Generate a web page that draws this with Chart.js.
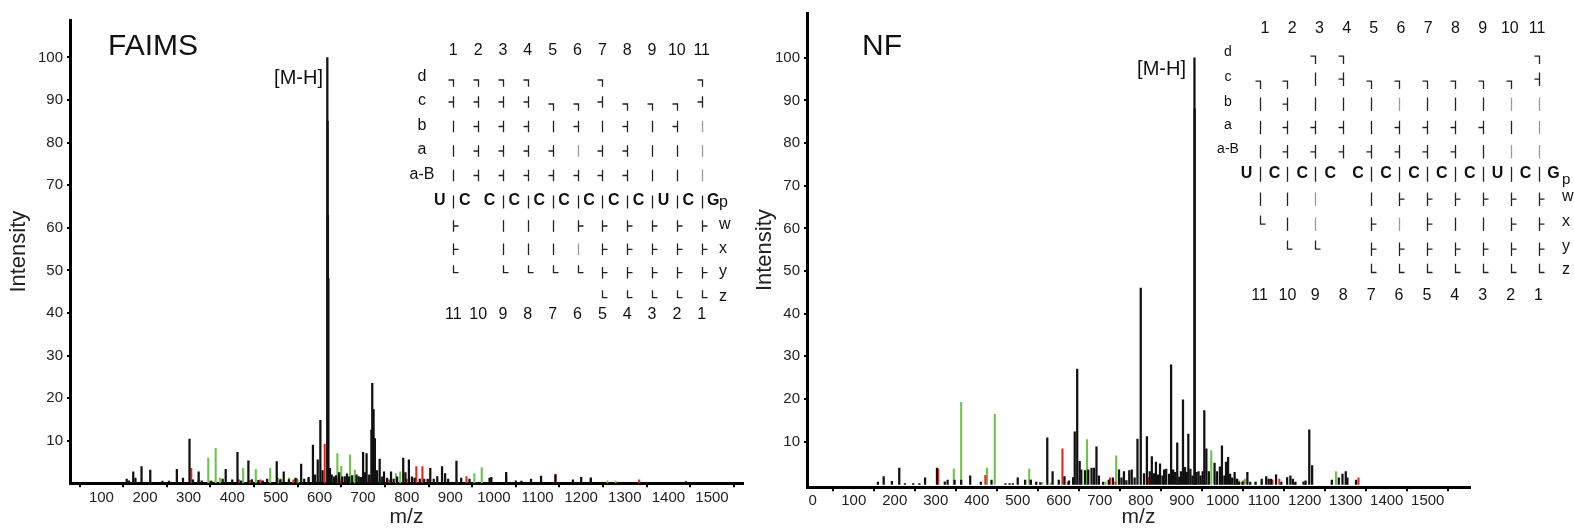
<!DOCTYPE html>
<html>
<head>
<meta charset="utf-8">
<script src="https://cdn.jsdelivr.net/npm/chart.js@4/dist/chart.umd.min.js"></script>
<style>
  html, body { margin: 0; padding: 0; background: #fff; }
  body { width: 1574px; height: 532px; position: relative; overflow: hidden; }
  canvas { position: absolute; top: 0; }
  #faims { left: 0; }
  #nf { left: 745px; }
</style>
</head>
<body>
<canvas id="faims" width="760" height="532"></canvas>
<canvas id="nf" width="829" height="532"></canvas>
<script>
/* ================= DATA ================= */
// peaks as [m/z, relative intensity]
const faimsBlack = [
  [158,1.0],[163,0.6],[173,2.7],[178,1.2],[192,3.9],[212,3.1],[240,0.5],[255,0.5],[273,3.3],[287,1.2],
  [302,10.4],[310,0.8],[323,2.7],[330,0.6],[352,0.5],[378,1.0],[385,3.3],[400,0.8],[412,7.3],[420,0.6],
  [437,5.3],[445,0.9],[460,0.7],[470,0.6],[480,1.0],[502,5.1],[510,0.8],[518,2.7],[530,0.9],[545,1.2],
  [558,4.5],[565,1.0],[575,1.4],[585,9.0],[590,2.0],[596,5.5],[602,14.8],[607,3.0],
  [618,100],[618.6,85],[619.4,63],[620.4,48],[624,3.5],[628,2.0],[633,1.5],[638,1.8],[645,2.5],[652,1.5],
  [658,1.6],[663,2.2],[668,1.5],[675,1.8],[685,2.0],[690,1.6],[695,1.4],[700,7.3],[704,2.5],[708,7.0],
  [714,2.0],[719,12.5],[721,23.5],[724,17.3],[727,10.5],[732,3.0],[738,5.7],[744,1.5],[748,2.7],[755,1.2],
  [764,2.7],[770,1.0],[778,1.5],[792,5.9],[797,2.5],[805,5.5],[812,1.5],[818,1.2],[830,1.0],[840,1.0],
  [848,1.0],[854,3.5],[862,1.0],[870,1.6],[881,3.9],[888,2.3],[895,1.0],[914,5.2],[925,1.2],[944,1.0],
  [990,1.2],[994,1.4],[1028,2.6],[1050,0.6],[1063,0.5],[1085,1.0],[1108,1.7],[1141,2.0],[1181,0.8],
  [1200,1.4],[1222,1.3],[1440,0.4]
];
const faimsRed = [
  [306,3.5],[322,0.8],[350,0.5],[415,0.8],[440,0.7],[465,0.8],[511,1.0],[540,0.8],[548,1.1],[575,1.0],
  [612,9.2],[640,1.2],[650,0.8],[700,1.0],[715,1.5],[760,0.8],[800,1.0],[822,3.9],[836,3.9],[850,0.8],
  [937,1.6],[1028,2.0],[1141,2.1],[1222,1.0],[1333,0.8]
];
const faimsGreen = [
  [212,0.4],[345,5.9],[362,8.2],[372,1.2],[425,3.5],[440,0.6],[454,3.3],[487,3.5],[505,1.2],[530,1.3],
  [550,0.8],[641,7.0],[650,4.0],[670,6.6],[681,3.1],[690,1.0],[740,1.0],[775,2.3],[785,2.7],[870,0.6],
  [915,0.6],[955,2.3],[972,3.7],[1260,0.6],[1279,0.5]
];

const nfBlack = [
  [159,0.5],[173,1.8],[193,0.7],[211,3.8],[225,0.2],[245,0.2],[260,0.2],[274,1.5],[303,3.8],[322,0.6],
  [329,1.0],[346,1.0],[362,1.0],[384,2.0],[410,0.5],[436,1.0],[470,0.2],[480,0.2],[488,0.2],[500,1.5],
  [518,1.0],[532,1.0],[545,0.5],[555,0.4],[572,10.9],[585,3.0],[600,1.0],[614,1.8],[625,0.8],[635,1.6],
  [639,12.3],[645,27.0],[651,5.4],[655,3.4],[664,3.2],[672,3.4],[680,3.8],[686,3.8],[692,8.8],[698,2.0],
  [708,0.5],[722,1.0],[732,1.5],[747,3.4],[753,1.5],[759,3.0],[765,0.9],[772,3.2],[778,3.4],[785,1.5],
  [792,10.6],[800,46.0],[808,2.5],[815,11.2],[822,3.0],[827,6.5],[832,2.5],[837,5.2],[842,2.2],[847,4.8],
  [853,2.0],[857,3.4],[862,3.6],[869,2.4],[874,28.0],[879,3.4],[884,2.8],[889,9.7],[894,1.7],[898,3.0],
  [903,19.8],[908,4.0],[912,2.8],[916,11.8],[921,3.6],[926,2.0],[931,100],[931.6,88],[936,2.8],[941,3.0],
  [946,2.0],[951,3.0],[955,17.3],[960,8.3],[966,3.0],[980,5.0],[986,3.0],[993,4.1],[998,9.0],[1004,2.0],
  [1008,5.2],[1013,6.3],[1018,2.4],[1023,1.5],[1029,2.8],[1035,1.2],[1040,0.5],[1048,0.5],[1060,2.8],
  [1067,0.5],[1080,0.5],[1095,1.2],[1106,1.8],[1112,1.2],[1118,1.2],[1130,2.2],[1143,0.5],[1157,1.6],
  [1165,2.0],[1171,1.2],[1177,0.5],[1197,0.6],[1202,0.8],[1211,12.8],[1218,4.4],[1266,1.0],[1283,1.5],
  [1292,2.4],[1300,3.0],[1304,1.5],[1325,1.0]
];
const nfRed = [
  [306,3.6],[421,2.1],[531,1.0],[545,0.5],[609,8.3],[622,0.5],[725,1.5],[738,0.6],[819,1.6],[890,0.8],
  [1029,1.2],[1050,0.8],[1121,1.0],[1138,1.2],[1177,0.4],[1331,1.5]
];
const nfGreen = [
  [344,3.6],[362,19.2],[425,3.8],[444,16.4],[528,3.6],[560,0.4],[580,0.3],[669,10.5],[714,0.6],[740,6.7],
  [760,0.8],[972,7.9],[985,1.8],[1040,0.8],[1054,1.2],[1080,0.5],[1095,0.6],[1276,3.0]
];

const yTickValues = [10, 20, 30, 40, 50, 60, 70, 80, 90, 100];
const faimsXTicks = [100, 200, 300, 400, 500, 600, 700, 800, 900, 1000, 1100, 1200, 1300, 1400, 1500];
const nfXTicks = [0, 100, 200, 300, 400, 500, 600, 700, 800, 900, 1000, 1100, 1200, 1300, 1400, 1500];

/* ----- fragment maps: . none, l |, I faint |, t ┤, r ├, n ┐, L └ ----- */
const upperRows = ['d', 'c', 'b', 'a', 'a-B'];
const lowerRows = ['w', 'x', 'y', 'z'];
const sequence = ['U', 'C', 'C', 'C', 'C', 'C', 'C', 'C', 'C', 'U', 'C', 'G'];

const faimsUpper = ['nnnn..n...n', 'ttttnntnnnt', 'ltttltltltI', 'lttttIttllI', 'ltttttttllI'];
const faimsLinks = 'l.lllllllll';
const faimsLower = ['r.lllrrrrrr', 'r.lllIrrrrr', 'L.LLLLrrrrr', '......LLLLL'];

const nfUpper = ['..nn......n', 'nnltnnnnnnt', 'ltlllIlllII', 'ltttlttttlI', 'ltttttttlII'];
const nfLinks = 'lll.lllllll';
const nfLower = ['llI.lrrrrrr', 'LlI.rIrllrr', '.LL.rrrrrrr', '....LLLLLLL'];

/* ================= STYLE ================= */
const FONT = "'Liberation Sans', Arial, sans-serif";
const BLACK = '#111111';
const RED = '#e4261f';
const GREEN = '#6cc24a';

const toPoints = arr => arr.map(p => ({ x: p[0], y: p[1] }));

/* ================= INSET ================= */
function drawMark(ctx, code, x, yc, hh) {
  if (code === '.') return;
  ctx.strokeStyle = code === 'I' ? '#9a9a9a' : '#222';
  ctx.beginPath();
  if (code === 'l' || code === 'I') {
    ctx.moveTo(x, yc - hh); ctx.lineTo(x, yc + hh);
  } else if (code === 't') {
    ctx.moveTo(x, yc - hh); ctx.lineTo(x, yc + hh);
    ctx.moveTo(x - 5, yc); ctx.lineTo(x, yc);
  } else if (code === 'r') {
    ctx.moveTo(x, yc - hh); ctx.lineTo(x, yc + hh);
    ctx.moveTo(x, yc); ctx.lineTo(x + 5, yc);
  } else if (code === 'n') {
    ctx.moveTo(x - 5, yc + 2); ctx.lineTo(x, yc + 2); ctx.lineTo(x, yc + hh + 3);
  } else if (code === 'L') {
    ctx.moveTo(x, yc - hh * 1.3); ctx.lineTo(x, yc); ctx.lineTo(x + 5, yc);
  }
  ctx.stroke();
}

function makeInset(s) {
  return {
    id: 'inset_' + s.name,
    afterDraw(chart) {
      const ctx = chart.ctx;
      ctx.save();
      ctx.translate(-s.left, 0);
      ctx.fillStyle = '#111';
      ctx.textBaseline = 'alphabetic';

      // panel title and parent ion label
      ctx.font = '30px ' + FONT;
      ctx.textAlign = 'left';
      ctx.fillText(s.name, s.titleX, 55);
      ctx.font = '20px ' + FONT;
      ctx.textAlign = 'right';
      ctx.fillText('[M-H]', s.mhX, s.mhY);

      const colX = k => s.x0 + (k - 1) * s.dx;
      ctx.textBaseline = 'middle';
      ctx.textAlign = 'center';

      // top / bottom numbering
      ctx.font = '16px ' + FONT;
      for (let k = 1; k <= 11; k++) {
        ctx.fillText(String(k), s.numX0 + (k - 1) * s.numDx, s.numTopY);
        ctx.fillText(String(12 - k), colX(k), s.numBotY);
      }

      // row labels
      ctx.font = s.labelSize + 'px ' + FONT;
      upperRows.forEach((r, i) => ctx.fillText(r, s.labelX, s.rowY[i]));

      ctx.lineWidth = 1.3;
      // upper fragment marks
      s.upper.forEach((row, i) => {
        for (let k = 1; k <= 11; k++) {
          drawMark(ctx, row[k - 1], Math.round(colX(k)) + 0.5, s.rowY[i] + s.markDy, s.hh);
        }
      });
      // backbone links
      for (let k = 1; k <= 11; k++) {
        drawMark(ctx, s.links[k - 1], Math.round(colX(k)) + 0.5, s.seqY + 1, s.seqHh);
      }
      // lower fragment marks
      s.lower.forEach((row, i) => {
        for (let k = 1; k <= 11; k++) {
          drawMark(ctx, row[k - 1], Math.round(colX(k)) + 0.5, s.lowY[i] + s.markDy, s.hh);
        }
      });

      // sequence
      ctx.fillStyle = '#111';
      ctx.font = 'bold 16px ' + FONT;
      sequence.forEach((b, i) => ctx.fillText(b, s.x0 + (i - 0.5) * s.dx + s.baseDx, s.seqY));

      // p / w x y z
      ctx.textAlign = 'left';
      ctx.font = s.pSize + 'px ' + FONT;
      ctx.fillText('p', s.sideX, s.pY);
      ctx.font = '16px ' + FONT;
      lowerRows.forEach((r, i) => ctx.fillText(r, s.sideX, s.lowY[i]));

      ctx.restore();
    }
  };
}

const faimsInset = {
  name: 'FAIMS', left: 0, titleX: 108, mhX: 323, mhY: 84,
  x0: 453.3, dx: 24.84, numX0: 453.3, numDx: 24.84, numTopY: 51, numBotY: 315,
  labelX: 422, labelSize: 16, rowY: [77, 101, 125.5, 150, 174.5], markDy: 1, hh: 5.8,
  seqY: 201, seqHh: 6.5, baseDx: -1, lowY: [225, 248.3, 271.7, 296.7],
  sideX: 719, pY: 203, pSize: 16,
  upper: faimsUpper, links: faimsLinks, lower: faimsLower
};
const nfInset = {
  name: 'NF', left: 745, titleX: 862, mhX: 1186, mhY: 74.5,
  x0: 1259.5, dx: 27.9, numX0: 1265, numDx: 27.2, numTopY: 28.5, numBotY: 296,
  labelX: 1228, labelSize: 14, rowY: [51.7, 76.7, 101.7, 125, 149.3], markDy: 2.5, hh: 6.7,
  seqY: 173.3, seqHh: 7.5, baseDx: 1, lowY: [196.7, 221.7, 246.7, 270],
  sideX: 1562, pY: 180, pSize: 15,
  upper: nfUpper, links: nfLinks, lower: nfLower
};

/* ================= CHARTS ================= */
function spectrum(id, cfg) {
  const ctx = document.getElementById(id).getContext('2d');
  const canvasH = 532;
  return new Chart(ctx, {
    type: 'bar',
    data: {
      datasets: [
        { data: toPoints(cfg.black), backgroundColor: BLACK, barThickness: 1.6, grouped: false, order: 0 },
        { data: toPoints(cfg.red), backgroundColor: RED, barThickness: 1.4, grouped: false, order: 1 },
        { data: toPoints(cfg.green), backgroundColor: GREEN, barThickness: 1.4, grouped: false, order: 2 }
      ]
    },
    options: {
      responsive: false,
      animation: false,
      devicePixelRatio: 1,
      layout: { padding: { top: cfg.top, right: cfg.right, left: 0, bottom: 0 } },
      plugins: { legend: { display: false }, tooltip: { enabled: false } },
      scales: {
        x: {
          type: 'linear',
          min: cfg.xMin,
          max: cfg.xMax,
          offset: false,
          afterBuildTicks: s => { s.ticks = cfg.xTicks.map(v => ({ value: v })); },
          afterFit: s => { s.height = canvasH - cfg.bottom; },
          border: { display: true, color: '#000', width: 3 },
          grid: { display: true, drawOnChartArea: false, drawTicks: true, tickLength: 4, color: '#000', lineWidth: 2 },
          ticks: {
            color: '#222', font: { family: FONT, size: 15 }, padding: cfg.xPad,
            maxRotation: 0, autoSkip: false, callback: v => String(v)
          },
          title: { display: true, text: 'm/z', color: '#222', font: { family: FONT, size: 21 }, padding: { top: 0, bottom: 2 } }
        },
        y: {
          min: cfg.yMin,
          max: cfg.yMax,
          afterBuildTicks: s => { s.ticks = yTickValues.map(v => ({ value: v })); },
          afterFit: s => { s.width = cfg.axisX; },
          border: { display: true, color: '#000', width: 3 },
          grid: { display: true, drawOnChartArea: false, drawTicks: true, tickLength: 3, color: '#000', lineWidth: 2 },
          ticks: { color: '#222', font: { family: FONT, size: 15 }, padding: 4, callback: v => String(v) },
          title: { display: true, text: 'Intensity', color: '#222', font: { family: FONT, size: 22 }, padding: { top: cfg.yTitlePad, bottom: 0 } }
        }
      }
    },
    plugins: [makeInset(cfg.inset)]
  });
}

spectrum('faims', {
  black: faimsBlack, red: faimsRed, green: faimsGreen,
  xMin: 28, xMax: 1571, xTicks: faimsXTicks, yMin: 0, yMax: 108.8,
  top: 20, right: 17, bottom: 483.3, axisX: 70, xPad: 2, yTitlePad: 6,
  inset: faimsInset
});

spectrum('nf', {
  black: nfBlack, red: nfRed, green: nfGreen,
  xMin: -14, xMax: 1603, xTicks: nfXTicks, yMin: -0.7, yMax: 110.5,
  top: 12.7, right: 104, bottom: 487.3, axisX: 62, xPad: 1, yTitlePad: 7,
  inset: nfInset
});
</script>
</body>
</html>
